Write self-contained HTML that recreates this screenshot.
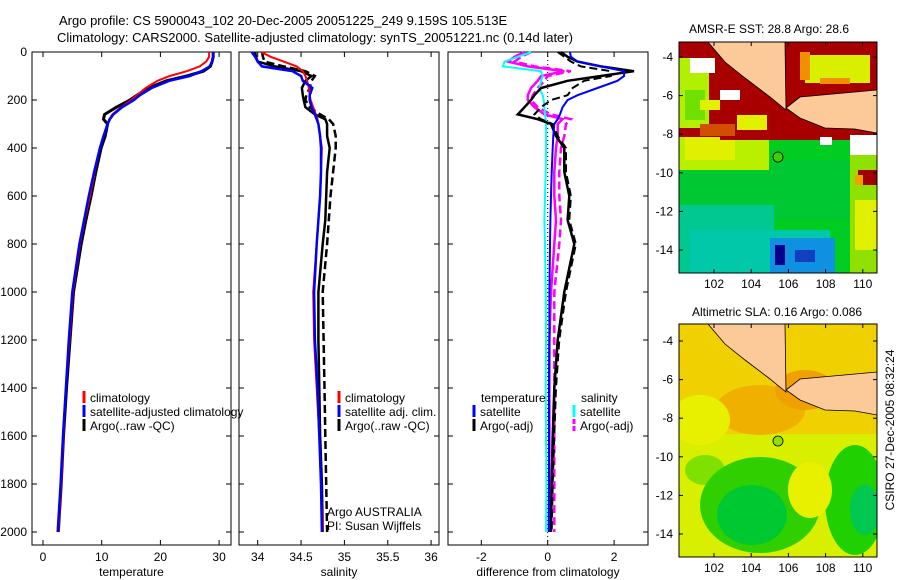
<!DOCTYPE html>
<html><head><meta charset="utf-8"><style>
body{margin:0;background:#fff;}
svg{display:block;font-family:"Liberation Sans",sans-serif;}
text{font-size:12px;fill:#000;}
</style></head><body>
<svg id="fig" width="900" height="580" viewBox="0 0 900 580">
<rect width="900" height="580" fill="#fff"/>
<text x="59" y="25" style="font-size:13px">Argo profile: CS 5900043_102 20-Dec-2005 20051225_249 9.159S 105.513E</text>
<text x="57" y="42" style="font-size:13px">Climatology: CARS2000. Satellite-adjusted climatology: synTS_20051221.nc (0.14d later)</text>
<g id="axes"></g>
<g id="series"></g>

<!-- Map 1: SST -->
<g>
<clipPath id="c1"><rect x="679" y="42" width="198" height="231"/></clipPath>
<g clip-path="url(#c1)">
<rect x="679" y="42" width="198" height="231" fill="#00cc22"/>
<rect x="679" y="160" width="198" height="60" fill="#00c833"/>
<rect x="679" y="205" width="95" height="68" fill="#00c890"/>
<rect x="690" y="230" width="140" height="43" fill="#00c8a8"/>
<rect x="770" y="238" width="65" height="35" fill="#1090e0"/>
<rect x="775" y="245" width="10" height="20" fill="#00008a"/>
<rect x="795" y="250" width="20" height="12" fill="#1040c0"/>
<rect x="679" y="130" width="90" height="40" fill="#b8f000"/>
<rect x="685" y="135" width="50" height="25" fill="#e0f000"/>
<rect x="850" y="150" width="27" height="123" fill="#90e000"/>
<rect x="855" y="200" width="22" height="50" fill="#e0f000"/>
<rect x="858" y="170" width="19" height="15" fill="#a00000"/>
<rect x="855" y="175" width="8" height="10" fill="#f0a000"/>
<rect x="679" y="42" width="198" height="95" fill="#a80000"/>
<rect x="720" y="120" width="150" height="20" fill="#a80000"/>
<rect x="679" y="58" width="30" height="70" fill="#b0f000"/>
<rect x="685" y="90" width="20" height="30" fill="#70e000"/>
<rect x="700" y="100" width="20" height="10" fill="#e0f000"/>
<rect x="737" y="115" width="30" height="15" fill="#e0f000"/>
<rect x="700" y="124" width="35" height="12" fill="#d05000"/>
<rect x="805" y="55" width="65" height="28" fill="#d8f000"/>
<rect x="800" y="52" width="10" height="28" fill="#f09000"/>
<rect x="820" y="78" width="30" height="6" fill="#f09000"/>
<rect x="690" y="58" width="25" height="15" fill="#fff"/>
<rect x="720" y="90" width="20" height="10" fill="#fff"/>
<rect x="850" y="135" width="27" height="20" fill="#fff"/>
<rect x="820" y="137" width="12" height="8" fill="#fff"/>
<polygon points="708,42 785,42 786,110 770,97 745,78 725,62" fill="#fcc998" stroke="#000" stroke-width="0.8"/>
<polygon points="786,108 800,97 877,90 877,133 855,129 825,128 800,118" fill="#fcc998" stroke="#000" stroke-width="0.8"/>
<circle cx="778" cy="157" r="5" fill="#40d000" stroke="#000" stroke-width="0.8"/>
</g>
<rect x="679" y="42" width="198" height="231" fill="none" stroke="#000"/>
<text x="769" y="33" text-anchor="middle">AMSR-E SST: 28.8 Argo: 28.6</text>
</g>

<!-- Map 2: SLA -->
<g>
<clipPath id="c2"><rect x="679" y="324" width="198" height="233"/></clipPath>
<g clip-path="url(#c2)">
<rect x="679" y="324" width="198" height="233" fill="#d8f000"/>
<rect x="679" y="324" width="198" height="110" fill="#f0d000"/>
<ellipse cx="760" cy="410" rx="45" ry="25" fill="#f0b000"/>
<ellipse cx="805" cy="390" rx="30" ry="20" fill="#f0a000"/>
<ellipse cx="700" cy="420" rx="30" ry="25" fill="#e8f000"/>
<ellipse cx="705" cy="470" rx="20" ry="15" fill="#80e000"/>
<ellipse cx="760" cy="505" rx="60" ry="48" fill="#30d000"/>
<ellipse cx="752" cy="515" rx="35" ry="30" fill="#00c830"/>
<ellipse cx="855" cy="500" rx="30" ry="55" fill="#20d000"/>
<ellipse cx="865" cy="510" rx="15" ry="25" fill="#00c850"/>
<ellipse cx="810" cy="490" rx="22" ry="28" fill="#e8f000"/>
<polygon points="708,324 785,324 786,392 770,379 745,360 725,344" fill="#fcc998" stroke="#000" stroke-width="0.8"/>
<polygon points="786,390 800,379 877,372 877,415 855,411 825,410 800,400" fill="#fcc998" stroke="#000" stroke-width="0.8"/>
<circle cx="778" cy="441" r="5" fill="#90e000" stroke="#000" stroke-width="0.8"/>
</g>
<rect x="679" y="324" width="198" height="233" fill="none" stroke="#000"/>
<text x="777" y="316" text-anchor="middle">Altimetric SLA: 0.16 Argo: 0.086</text>
</g>
<g id="mapticks"></g>
<text transform="translate(894,430) rotate(-90)" text-anchor="middle">CSIRO 27-Dec-2005 08:32:24</text>
</svg>
<script>
// ---- data ----
const pressure = [0,20,40,60,80,100,120,150,180,200,230,260,280,300,350,400,500,600,700,800,1000,1200,1400,1600,1800,2000];
const tempClim = [28.3,28.3,27.8,26.7,24.5,21.6,19.5,17.5,16,15,13.3,11.8,11.3,11,10.3,9.7,8.8,8,7.1,6.3,5.1,4.5,3.9,3.5,3.1,2.6];
const tempSat  = [29,29,28.8,28.4,27,25,21.5,18.5,16.5,15.5,13.5,12,11.4,11,10.3,9.7,8.7,7.8,7,6.2,5,4.4,3.9,3.4,3,2.5];
const tempArgo = [29,29,28.8,28.5,27.3,24.5,21,18,16,14.8,12.5,10.5,10.3,11,10.6,9.9,9,8.2,7.3,6.5,5.2,4.6,4,3.5,3.1,2.6];
const salClim  = [34.04,34.15,34.3,34.45,34.52,34.55,34.57,34.59,34.6,34.61,34.64,34.67,34.69,34.7,34.72,34.74,34.73,34.72,34.7,34.68,34.64,34.65,34.68,34.71,34.73,34.75];
const salSat   = [33.93,33.97,34.0,34.05,34.4,34.5,34.52,34.63,34.6,34.6,34.62,34.66,34.68,34.7,34.72,34.73,34.73,34.72,34.7,34.68,34.65,34.66,34.69,34.71,34.73,34.74];
const salArgo  = [33.97,33.98,34.0,34.2,34.5,34.62,34.55,34.51,34.52,34.53,34.55,34.66,34.78,34.8,34.8,34.83,34.8,34.79,34.78,34.75,34.7,34.7,34.71,34.72,34.74,34.75];
const salArgo2 = [34.05,34.06,34.08,34.3,34.55,34.66,34.62,34.6,34.56,34.55,34.6,34.72,34.82,34.87,34.9,34.9,34.87,34.84,34.82,34.8,34.75,34.76,34.77,34.78,34.79,34.8];
const dTempSat  = [0.67,0.7,0.9,1.6,2.3,2.3,2.1,1.5,0.9,0.6,0.45,0.37,0.3,0.2,0.17,0.15,0.12,0.1,0.08,0.07,0.05,0.05,0.04,0.04,0.04,0.03];
const dTempArgo = [0.4,0.6,0.9,1.6,2.6,1.6,0.6,-0.2,-0.4,-0.5,-0.7,-0.9,-0.3,0.1,0.25,0.5,0.5,0.65,0.6,0.8,0.5,0.3,0.2,0.15,0.12,0.1];
const dTempArgo2= [0.3,0.5,0.7,1.0,1.9,1.9,1.1,0.75,0.6,0.1,-0.2,-0.4,-0.2,0.15,0.3,0.55,0.55,0.7,0.65,0.85,0.55,0.35,0.25,0.2,0.15,0.12];
const dSalSat   = [-0.5,-0.9,-1.3,-1.35,-0.2,-0.15,-0.2,-0.25,-0.15,-0.12,-0.1,-0.08,-0.06,-0.05,-0.05,-0.05,-0.06,-0.08,-0.1,-0.08,-0.06,-0.05,-0.06,-0.05,-0.04,-0.05];
const dSalArgo  = [-0.7,-1.0,-1.2,-0.6,0.5,-0.2,-0.3,-0.5,-0.6,-0.6,-0.4,-0.1,0.45,0.3,0.3,0.25,0.2,0.2,0.25,0.2,0.1,0.05,0.05,0.05,0.05,0.05];
const dSalArgo2 = [-0.5,-0.8,-1.0,-0.4,0.7,0.0,-0.1,-0.3,-0.45,-0.5,-0.3,0.1,0.7,0.55,0.5,0.4,0.35,0.35,0.4,0.35,0.2,0.2,0.2,0.2,0.2,0.2];
const pTicks = [0,200,400,600,800,1000,1200,1400,1600,1800,2000];
const tTicks = [0,10,20,30];
const sTicks = [34,34.5,35,35.5,36];
const sTickLabels = ["34","34.5","35","35.5","36"];
const dTicks = [-2,0,2];
const latTicks = [-4,-6,-8,-10,-12,-14];
const lonTicks = [102,104,106,108,110];

const NS="http://www.w3.org/2000/svg";
const axesG=document.getElementById('axes'), serG=document.getElementById('series'), mapG=document.getElementById('mapticks');
function mk(tag,attrs,parent){const e=document.createElementNS(NS,tag);for(const k in attrs)e.setAttribute(k,attrs[k]);parent.appendChild(e);return e;}
const yP = p => 52 + p*0.24;
const panels = [
 {x0:32,x1:231,xs:v=>43+5.87*v,ticks:tTicks,labels:tTicks.map(String),title:'temperature',name:'temperature-panel'},
 {x0:239,x1:439,xs:v=>257.7+86.7*(v-34),ticks:sTicks,labels:sTickLabels,title:'salinity',name:'salinity-panel'},
 {x0:448,x1:648,xs:v=>547.7+33.2*v,ticks:dTicks,labels:dTicks.map(String),title:'difference from climatology',name:'difference-panel'}
];
panels.forEach((P,i)=>{
 const r=mk('rect',{x:P.x0,y:52,width:P.x1-P.x0,height:493,fill:'none',stroke:'#000'},axesG);
 
 
 P.ticks.forEach((t,j)=>{
  const x=P.xs(t);
  mk('line',{x1:x,x2:x,y1:545,y2:540,stroke:'#000'},axesG);
  mk('line',{x1:x,x2:x,y1:52,y2:57,stroke:'#000'},axesG);
  const tx=mk('text',{x:x,y:561,'text-anchor':'middle'},axesG);tx.textContent=P.labels[j];
  
  
 });
 pTicks.forEach(p=>{
  mk('line',{x1:P.x0,x2:P.x0+5,y1:yP(p),y2:yP(p),stroke:'#000'},axesG);
  mk('line',{x1:P.x1,x2:P.x1-5,y1:yP(p),y2:yP(p),stroke:'#000'},axesG);
  if(i===0){const t=mk('text',{x:27,y:yP(p)+4,'text-anchor':'end'},axesG);t.textContent=p;
   
   }
 });
 const tt=mk('text',{x:(P.x0+P.x1)/2,y:576,'text-anchor':'middle'},axesG);tt.textContent=P.title;
 
 
});
function line(xs,vals,color,w,dash,name){
 const pts=vals.map((v,k)=>xs(v).toFixed(1)+','+yP(pressure[k]).toFixed(1)).join(' ');
 const pl=mk('polyline',{points:pts,fill:'none',stroke:color,'stroke-width':w},serG);
 if(dash)pl.setAttribute('stroke-dasharray',dash);
 
 
}
const P0=panels[0].xs,P1=panels[1].xs,P2=panels[2].xs;
line(P0,tempArgo,'#000',3,null,'temp-argo-line');
line(P0,tempClim,'#f00',2,null,'temp-climatology-line');
line(P0,tempSat,'#00f',2.5,null,'temp-satellite-line');
line(P1,salArgo2,'#000',2.5,'8,4','sal-argo-raw-line');
line(P1,salArgo,'#000',2.5,null,'sal-argo-line');
line(P1,salClim,'#f00',2,null,'sal-climatology-line');
line(P1,salSat,'#00f',2.5,null,'sal-satellite-line');
const z=mk('line',{x1:P2(0),x2:P2(0),y1:52,y2:545,stroke:'#000','stroke-dasharray':'1,3'},serG);


line(P2,dSalArgo2,'#f0f',2.5,'8,4','dsal-argo-raw-line');
line(P2,dSalArgo,'#f0f',2.5,null,'dsal-argo-line');
line(P2,dSalSat,'#0ff',2,null,'dsal-satellite-line');
line(P2,dTempArgo2,'#000',2,'8,4','dtemp-argo-raw-line');
line(P2,dTempArgo,'#000',2.5,null,'dtemp-argo-line');
line(P2,dTempSat,'#00f',2,null,'dtemp-satellite-line');
// legends
function leg(x,y,color,label,dash){
 if(color){const l=mk('line',{x1:x,x2:x,y1:y-11,y2:y+1,stroke:color,'stroke-width':3},serG);
  if(dash)l.setAttribute('stroke-dasharray','5,2');}
 const t=mk('text',{x:x+6,y:y},serG);t.textContent=label;
 
 
}
leg(84,402,'#f00','climatology');leg(84,416,'#00f','satellite-adjusted climatology');leg(84,430,'#000','Argo(..raw -QC)');
leg(339,402,'#f00','climatology');leg(339,416,'#00f','satellite adj. clim.');leg(339,430,'#000','Argo(..raw -QC)');
leg(475,402,null,'temperature');leg(474,416,'#00f','satellite');leg(474,430,'#000','Argo(-adj)');
leg(575,402,null,'salinity');leg(574,416,'#0ff','satellite');leg(574,430,'#f0f','Argo(-adj)',true);
const a1=mk('text',{x:327,y:516},serG);a1.textContent='Argo AUSTRALIA';


const a2=mk('text',{x:327,y:530},serG);a2.textContent='PI: Susan Wijffels';


// map ticks
[[42,273,57],[324,557,341]].forEach(([top,bot,y4])=>{
 latTicks.forEach(l=>{const y=y4+(-4-l)*19.3;
  mk('line',{x1:679,x2:683,y1:y,y2:y,stroke:'#000'},mapG);mk('line',{x1:877,x2:873,y1:y,y2:y,stroke:'#000'},mapG);
  const t=mk('text',{x:673,y:y+4,'text-anchor':'end'},mapG);t.textContent=l;
  
  });
 lonTicks.forEach(l=>{const x=714+(l-102)*18.6;
  mk('line',{x1:x,x2:x,y1:bot,y2:bot-4,stroke:'#000'},mapG);mk('line',{x1:x,x2:x,y1:top,y2:top+4,stroke:'#000'},mapG);
  const t=mk('text',{x:x,y:bot+15,'text-anchor':'middle'},mapG);t.textContent=l;
  
  });
});
</script>
</body></html>
